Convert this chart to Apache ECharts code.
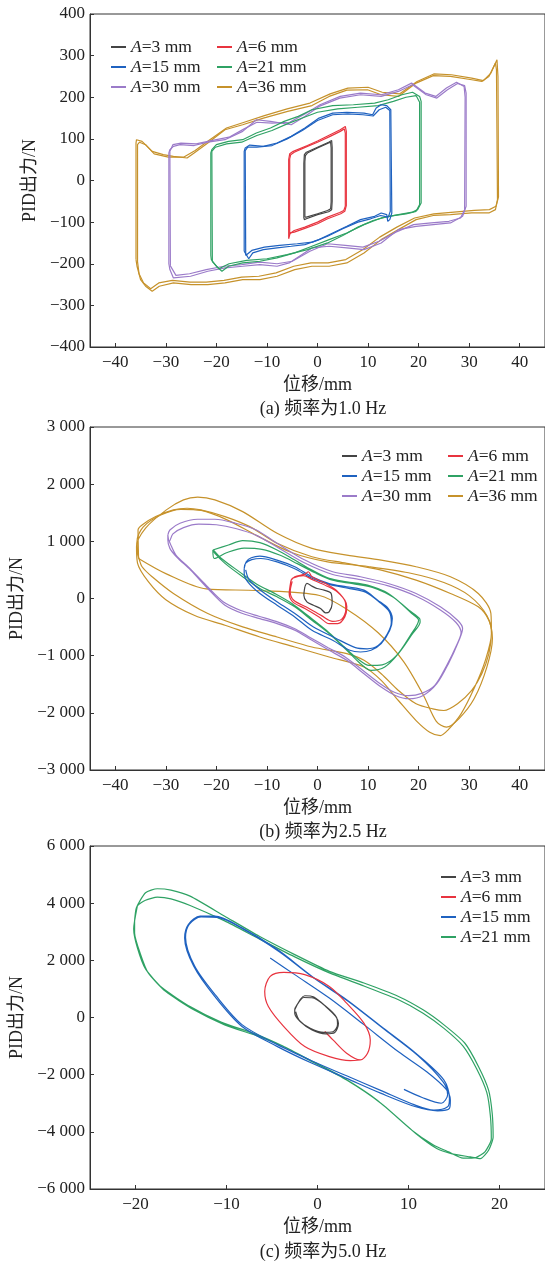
<!DOCTYPE html>
<html>
<head>
<meta charset="utf-8">
<script src="https://cdn.jsdelivr.net/npm/echarts@6/dist/echarts.min.js"></script>
<style>
  html, body { margin: 0; padding: 0; background: #fff; }
  #main { width: 545px; height: 1263px; }
</style>
</head>
<body>
<div id="main"></div>
<script>
// 图例名称与颜色
var names = ['A=3 mm', 'A=6 mm', 'A=15 mm', 'A=21 mm', 'A=30 mm', 'A=36 mm'];
var colors = ['#444444', '#e8343f', '#1f62c0', '#2fa264', '#9b7bc9', '#c6922b'];

// 坐标刻度
var xTicksA = [-40, -30, -20, -10, 0, 10, 20, 30, 40];
var xTicksC = [-20, -10, 0, 10, 20];

// (a) 频率为1.0 Hz  [位移mm, 出力N]，每个幅值两圈
var a3 = [[-2.7,-90],[-2.7,40],[-2.6,62],[-2.2,68],[0,80],[2.2,92],[2.8,96],[2.9,80],[2.9,-50],[2.8,-70],[2.2,-75],[0,-82],[-2.2,-92],[-2.6,-94],[-2.7,-90]];
var a3b = [[-2.5,-88],[-2.5,45],[-2.4,60],[-2,66],[0,78],[2.2,90],[2.6,92],[2.7,78],[2.7,-52],[2.6,-68],[2,-72],[0,-80],[-2.2,-88],[-2.5,-88]];
var a6 = [[-5.7,-140],[-5.7,50],[-5.5,64],[-4.8,70],[-2,84],[0,95],[2.5,110],[4.5,122],[5.5,130],[5.7,118],[5.7,-60],[5.4,-74],[4.6,-80],[2,-92],[0,-104],[-2.5,-115],[-4.6,-124],[-5.4,-126],[-5.7,-140]];
var a6b = [[-5.5,-128],[-5.5,52],[-5.3,62],[-4.6,68],[-2,82],[0,92],[2.5,106],[4.5,118],[5.3,124],[5.5,114],[5.5,-62],[5.2,-72],[4.4,-77],[2,-88],[0,-100],[-2.5,-112],[-4.6,-120],[-5.5,-128]];
var a15 = [[-14.5,-170],[-14.5,70],[-14.3,78],[-13.4,85],[-10.7,82],[-8,90],[-5.2,106],[-2.5,126],[0.3,150],[3,162],[5.8,164],[9.2,162],[10.9,158],[11.6,174],[12.6,182],[13.7,180],[14.5,170],[14.7,-78],[14.3,-94],[13.9,-98],[13.7,-82],[12.6,-78],[11.3,-86],[8.5,-94],[5.8,-110],[3,-126],[0.3,-142],[-2.5,-154],[-5.2,-158],[-8,-162],[-10.7,-166],[-12.8,-174],[-13.6,-188],[-14.3,-174],[-14.5,-170]];
var a15b = [[-14.2,-180],[-14.3,72],[-13.8,80],[-12,80],[-9,84],[-6,100],[-3,120],[0,144],[3,158],[6,160],[9,158],[11,155],[12.2,170],[13.5,176],[14.3,168],[14.4,-74],[14,-88],[12.5,-84],[10.5,-92],[8,-100],[5,-116],[2,-134],[-1,-148],[-4,-152],[-7.5,-156],[-10.5,-160],[-13,-168],[-14.2,-180]];
var a21 = [[-21.1,-180],[-21.1,66],[-20.9,74],[-20,86],[-17.6,94],[-14.8,98],[-12.1,114],[-9.3,126],[-6.6,142],[-3.8,154],[-1.1,170],[3,180],[7.1,182],[11.3,186],[14,194],[16.7,206],[18.8,212],[20.2,202],[20.5,190],[20.5,-54],[19.8,-70],[18.8,-76],[16,-82],[12.6,-90],[9.2,-106],[5.8,-126],[2.3,-142],[-1.1,-158],[-4.5,-174],[-8,-186],[-11.4,-194],[-14.8,-198],[-17.6,-206],[-18.9,-218],[-20,-206],[-21,-190],[-21.1,-180]];
var a21b = [[-20.8,-195],[-20.9,70],[-20.2,80],[-18,88],[-15,92],[-12,108],[-9,120],[-6,136],[-3,150],[0,164],[4,172],[8,176],[12,180],[15,190],[17.5,200],[19.5,204],[20.2,188],[20.2,-58],[19.5,-74],[17.5,-80],[14,-86],[11,-96],[8,-112],[5,-132],[2,-150],[-2,-166],[-6,-178],[-10,-188],[-14,-192],[-17.5,-200],[-19.5,-212],[-20.8,-195]];
var a30 = [[-29.4,-200],[-29.4,66],[-29.2,74],[-28.5,82],[-27.2,86],[-24.4,84],[-21.7,92],[-18.3,98],[-14.8,118],[-12.1,146],[-9.3,142],[-5.2,134],[-2.5,154],[0.3,178],[4.4,198],[8.5,206],[12.6,202],[16,214],[18.8,230],[21.5,206],[23.6,198],[25.7,218],[27.7,233],[29.1,228],[29.4,210],[29.4,-62],[28.7,-86],[26.3,-102],[22.9,-106],[19.5,-110],[16,-118],[12.6,-150],[9.2,-166],[5.8,-162],[2.3,-158],[-1.1,-162],[-5.6,-198],[-8,-206],[-11.4,-202],[-14.8,-206],[-18.3,-210],[-21.7,-218],[-25.1,-230],[-28.5,-234],[-29.2,-214],[-29.4,-200]];
var a30b = [[-29.1,-205],[-29.2,70],[-28.6,86],[-27,90],[-24,88],[-21,96],[-17.5,104],[-14.5,124],[-12,140],[-9,138],[-5.5,140],[-2.5,160],[0.5,182],[4.5,202],[8.5,210],[12.6,206],[16,218],[18.6,234],[21.3,210],[23.4,202],[25.5,222],[27.5,236],[29,226],[29.2,200],[29.1,-70],[28.3,-90],[26,-98],[22.5,-102],[19,-106],[15.5,-124],[12.2,-146],[9,-160],[5.5,-156],[2,-152],[-1.5,-170],[-5,-194],[-8,-200],[-11.5,-196],[-15,-202],[-18.5,-206],[-22,-214],[-25.3,-224],[-28,-228],[-29.1,-205]];
var a36 = [[-35.9,-190],[-35.9,90],[-35.8,98],[-34.7,94],[-32.7,70],[-30.5,62],[-28.5,58],[-25.8,54],[-24.4,66],[-21.7,90],[-18.3,122],[-14.8,134],[-10.7,150],[-5.9,166],[-1.1,180],[2.3,202],[5.8,217],[9.9,218],[12.6,206],[16,202],[19.5,234],[22.9,252],[26.3,250],[30.5,242],[32.5,238],[33.9,250],[35.2,282],[35.4,266],[35.6,-46],[35.2,-70],[33.9,-78],[30.5,-78],[26.3,-82],[22.9,-84],[19.5,-94],[16,-118],[12.6,-142],[9.2,-174],[5.8,-198],[2.3,-206],[-1.1,-206],[-4.5,-214],[-8,-230],[-11.4,-238],[-14.8,-238],[-18.3,-246],[-21.7,-250],[-25,-250],[-28.5,-246],[-31.3,-254],[-32.7,-266],[-34,-254],[-35,-238],[-35.7,-206],[-35.9,-190]];
var a36b = [[-35.6,-195],[-35.6,86],[-35.2,92],[-34,86],[-32.3,64],[-29.5,56],[-26.5,56],[-24.2,72],[-21.5,96],[-18,126],[-14.5,140],[-10.5,156],[-6,172],[-1.5,186],[2.5,208],[6,222],[10,224],[12.8,212],[16.2,208],[19.7,238],[23,256],[26.5,254],[30.5,246],[32.8,240],[34.3,258],[35.5,290],[35.7,250],[35.8,-40],[35.3,-62],[34,-70],[31,-72],[27,-76],[23,-80],[19.2,-90],[15.7,-112],[12.3,-136],[9,-166],[5.6,-190],[2.1,-198],[-1.3,-198],[-4.7,-206],[-8.2,-222],[-11.6,-230],[-15,-232],[-18.5,-240],[-22,-244],[-25.2,-244],[-28.7,-240],[-31.4,-246],[-33,-260],[-34.4,-246],[-35.3,-224],[-35.6,-195]];

// (b) 频率为2.5 Hz
var b3 = [[-2.5,205],[-2.1,263],[-1.1,216],[-0.1,175],[1.3,146],[2.7,88],[2.9,-88],[2.3,-234],[1.6,-251],[0.6,-175],[-0.8,-117],[-2.1,-58],[-2.7,58],[-2.5,205]];
var b6 = [[-5.2,322],[-4.5,380],[-2.5,427],[-1.8,468],[-1.1,380],[1.6,263],[3.7,146],[5.4,-29],[5.8,-146],[5.4,-322],[4,-439],[2.3,-439],[0.3,-322],[-2.5,-175],[-4.9,-58],[-5.6,88],[-5.4,234],[-5.2,322],
          [-4.8,360],[-2.8,400],[-1,330],[1.8,220],[4,110],[5.5,-60],[5.6,-200],[4.8,-360],[3,-400],[0.8,-300],[-2.2,-150],[-4.7,-30],[-5.4,120],[-5,300]];
var b15 = [[-14.5,526],[-14.1,643],[-13.1,713],[-11.4,743],[-8,672],[-4.5,556],[-1.1,380],[2.3,263],[5.8,205],[9.2,146],[11.9,-29],[14,-175],[14.8,-351],[14.3,-556],[12.6,-789],[10.6,-906],[8.5,-936],[6.4,-906],[3,-731],[-1.1,-556],[-4.5,-322],[-8,-117],[-11.4,88],[-13.8,292],[-14.5,439],[-14.5,526],
           [-14.2,620],[-13,680],[-11.2,700],[-8,640],[-4.5,520],[-1,350],[2.5,240],[6,180],[9.5,110],[12.2,-60],[14.2,-230],[14.6,-420],[13.8,-620],[12,-820],[9.8,-880],[7.5,-860],[3.5,-690],[-0.8,-500],[-4.2,-280],[-7.8,-70],[-11.2,140],[-13.6,340],[-14.2,500]];
var b21 = [[-20.7,848],[-17.6,936],[-14.8,1012],[-11.4,977],[-8,848],[-4.5,672],[-1.1,497],[2.3,351],[5.8,292],[9.9,234],[14,88],[18.1,-205],[20.2,-351],[20.3,-409],[18.8,-614],[16,-965],[13.3,-1199],[10.6,-1257],[8.5,-1140],[5.8,-906],[2.3,-614],[-1.1,-380],[-4.5,-146],[-8,29],[-11.4,175],[-14.8,380],[-18.3,614],[-20.3,789],[-20.7,848],
           [-20.4,700],[-18,800],[-14.5,880],[-11,860],[-7.5,760],[-4,610],[-0.5,450],[3,320],[7,260],[11,190],[15,20],[18.6,-260],[20,-380],[18.4,-640],[15.6,-1000],[12.8,-1160],[10.2,-1170],[8,-1060],[5.2,-840],[1.8,-560],[-1.6,-320],[-5,-90],[-8.5,90],[-12,250],[-15.5,470],[-19,700],[-20.6,850]];
var b30 = [[-29.6,1111],[-29.2,1199],[-27.2,1316],[-23.7,1386],[-20.3,1386],[-16.2,1316],[-12.1,1199],[-8,965],[-2.5,672],[3,468],[8.5,380],[14,263],[19.5,88],[24.3,-146],[27.7,-380],[28.7,-526],[28,-731],[25.9,-1140],[23.6,-1491],[20.9,-1696],[18.1,-1754],[15.4,-1696],[12.6,-1550],[9.2,-1316],[5.8,-1082],[2.3,-906],[-1.1,-731],[-4.5,-556],[-8,-439],[-11.4,-351],[-14.8,-263],[-18.3,-117],[-21.7,175],[-25.1,497],[-27.9,731],[-29.2,877],[-29.6,1023],[-29.6,1111],
           [-29.3,1000],[-28.6,1130],[-26.5,1240],[-23.5,1300],[-20,1290],[-16,1220],[-12,1100],[-8,900],[-2.5,620],[3,420],[8.5,330],[14,220],[19.5,40],[24.3,-200],[27.4,-420],[28.4,-600],[27.6,-800],[25.5,-1180],[23.2,-1520],[20.6,-1660],[18,-1700],[15.2,-1640],[12.4,-1490],[9,-1260],[5.6,-1030],[2.1,-860],[-1.3,-690],[-4.7,-520],[-8.2,-400],[-11.6,-310],[-15,-215],[-18.6,-60],[-22,230],[-25.4,540],[-28,760],[-29.3,1000]];
var b36 = [[-35.4,731],[-35.5,1199],[-34.7,1287],[-32,1433],[-28.5,1550],[-25.8,1579],[-23.1,1550],[-18.3,1433],[-13.4,1257],[-8,965],[-1.1,731],[5.8,614],[12.6,497],[19.5,322],[26.3,88],[31.8,-146],[33.9,-380],[34.4,-614],[33.9,-965],[32.5,-1316],[30.5,-1608],[27.7,-1842],[25,-1959],[22.8,-1930],[19.5,-1842],[16,-1608],[12.6,-1316],[9.2,-1082],[5.8,-965],[-1.1,-848],[-8,-673],[-14.8,-497],[-21.7,-263],[-28.5,88],[-32.7,380],[-34.7,556],[-35.4,731],
           [-35.8,906],[-34,1230],[-29.9,1550],[-26.5,1725],[-23.7,1772],[-20.3,1725],[-14.8,1520],[-8,1140],[-1.1,877],[5.8,760],[12.6,672],[19.5,556],[26.3,380],[31.8,88],[34.3,-263],[34.4,-614],[33.2,-1082],[31.1,-1550],[28.4,-2018],[25.7,-2310],[24.3,-2398],[22.2,-2339],[19.5,-2135],[16,-1784],[12.6,-1433],[9.2,-1199],[2.3,-1023],[-4.5,-848],[-11.4,-673],[-18.3,-468],[-24.4,-292],[-30,-20],[-33.5,300],[-35.6,620],[-35.8,906]];
var b36c = [[-35.4,700],[-29.9,431],[-22,168],[-12.1,140],[0.4,53],[6,-200],[12,-600],[17,-1100],[21,-1700],[23.5,-2150],[25.5,-2250],[28,-2100],[31,-1750],[33.5,-1200],[34.6,-700],[33.5,-300],[30,50],[25,280],[18,450],[10,560],[2,640],[-5,800],[-12,1100],[-18,1380],[-23,1540],[-27,1560],[-31,1460],[-34.5,1250],[-35.7,1000],[-35.4,700]];

// (c) 频率为5.0 Hz
var c3 = [[-2.5,269],[-1.4,761],[-0.4,714],[0.9,386],[2,35],[2.3,-199],[1.9,-527],[0.9,-573],[-0.6,-433],[-1.9,-140],[-2.5,152],[-2.5,269],
          [-2.3,420],[-1.5,700],[-0.6,690],[0.8,420],[2.1,0],[2.2,-250],[1.7,-500],[0.7,-520],[-0.8,-380],[-2,-100],[-2.4,200]];
var c6 = [[0.8,-491],[1.7,-784],[3.2,-1252],[4.7,-1486],[5.5,-1252],[5.8,-784],[5.1,-199],[3.2,503],[1.3,1088],[-1.4,1498],[-3.7,1580],[-5.2,1439],[-5.8,913],[-5.4,386],[-3.7,-316],[-1.4,-1018],[1.3,-1369],[3.6,-1509],[4.7,-1486]];
var c15 = [[-5.2,2083],[-2.5,1500],[1.3,680],[5.1,-250],[8.9,-1200],[12,-1900],[14.1,-2500],[14.6,-2890],[14.5,-3182],[13.2,-3264],[10.8,-3124],[7,-2656],[3.2,-2129],[-0.6,-1603],[-4.4,-1018],[-8.3,-316],[-11.3,737],[-13.6,1790],[-14.6,2785],[-14.2,3253],[-12.9,3545],[-11.3,3545],[-8.3,3136],[-4.4,2375],[-0.6,1439],[3.2,620],[7,-316],[10.8,-1252],[13.9,-2188],[14.5,-2831],[14.3,-3124],[12.8,-3241],[10.6,-3050],[7,-2560],[3.2,-2040],[-0.6,-1520],[-4.4,-950],[-8.3,-250],[-11.2,780],[-13.5,1800],[-14.5,2800],[-14.1,3260],[-12.8,3520],[-11,3500],[-8.1,3080],[-4.2,2300],[-0.4,1380],[3.4,560],[7.2,-380],[11,-1320],[13.8,-2250],[14.3,-2700],[13.6,-3000],[11.5,-2800],[9.5,-2516]];
var c21 = [[-20.1,3370],[-19.9,3838],[-18.9,4364],[-17.6,4505],[-16.1,4458],[-14,4247],[-10.2,3545],[-6.4,2843],[-2.5,2200],[1.3,1615],[5.1,1205],[8.9,737],[11.6,269],[13.9,-257],[16.2,-901],[17.7,-1720],[18.8,-2539],[19.2,-3358],[19.3,-4177],[18.8,-4645],[17.9,-4938],[16.8,-4879],[14.7,-4762],[13.1,-4586],[10.8,-4060],[7,-3007],[3.2,-2188],[-0.6,-1544],[-3.3,-1076],[-6.4,-667],[-10.2,-257],[-13.6,269],[-16.7,913],[-18.6,1556],[-19.5,2258],[-20.1,2960],[-20.1,3370],
           [-19.8,3900],[-18.9,4100],[-17.6,4210],[-16.1,4150],[-14,3920],[-10.2,3380],[-6.4,2750],[-2.5,2120],[1.3,1560],[5.1,1100],[8.9,620],[11.6,150],[13.9,-380],[16,-1000],[17.5,-1800],[18.6,-2620],[19,-3450],[19.1,-4250],[18.4,-4700],[17.4,-4900],[16,-4920],[14.4,-4700],[12.7,-4450],[10.4,-3950],[6.6,-2900],[2.8,-2100],[-1,-1460],[-3.8,-1000],[-6.8,-580],[-10.6,-160],[-14,380],[-17.1,1050],[-18.9,1700],[-19.8,2450],[-20.2,3100],[-19.8,3900]];

var FONT = '"Liberation Serif", "Noto Sans CJK SC", serif';

function fmt(v) {
  var a = Math.abs(v);
  var s = a >= 1000 ? Math.floor(a / 1000) + ' ' + String(a % 1000).padStart(3, '0') : String(a);
  return (v < 0 ? '\u2212' : '') + s;
}

var chart = echarts.init(document.getElementById('main'), null, { renderer: 'canvas' });

var grids = [
  { left: 90, top: 14, width: 457, height: 333 },
  { left: 90, top: 427, width: 457, height: 343 },
  { left: 90, top: 846, width: 457, height: 343 }
];
var xRanges = [[-45, 45, xTicksA], [-45, 45, xTicksA], [-25, 25, xTicksC]];
var yRanges = [[-400, 400, 100, 50], [-3000, 3000, 1000, 62], [-6000, 6000, 2000, 62]];

function xAxis(i) {
  return {
    gridIndex: i, type: 'value', min: xRanges[i][0], max: xRanges[i][1], interval: 5,
    name: '位移/mm', nameLocation: 'middle', nameGap: 29,
    nameTextStyle: { fontFamily: FONT, fontSize: 18, color: '#222' },
    axisLine: { onZero: false, lineStyle: { color: '#333', width: 1 } },
    axisTick: { inside: true, length: 4, customValues: xRanges[i][2], lineStyle: { color: '#333' } },
    axisLabel: { customValues: xRanges[i][2], margin: 7, fontFamily: FONT, fontSize: 17, color: '#222', formatter: fmt },
    splitLine: { show: false }
  };
}
function yAxis(i) {
  return {
    gridIndex: i, type: 'value', min: yRanges[i][0], max: yRanges[i][1], interval: yRanges[i][2],
    name: 'PID出力/N', nameLocation: 'middle', nameGap: yRanges[i][3],
    nameTextStyle: { fontFamily: FONT, fontSize: 18, color: '#222' },
    axisLine: { onZero: false, lineStyle: { color: '#333', width: 1 } },
    axisTick: { inside: true, length: 4, lineStyle: { color: '#333' } },
    axisLabel: { margin: 5, fontFamily: FONT, fontSize: 17, color: '#222', formatter: fmt },
    splitLine: { show: false }
  };
}

function legend(left, top, data) {
  return {
    left: left, top: top, orient: 'vertical', itemGap: 0,
    itemWidth: 15, itemHeight: 2, icon: 'rect', data: data,
    selectedMode: false,
    formatter: function (n) { return '{i|A}{n|' + n.slice(1) + '}'; },
    textStyle: {
      color: '#222', fontFamily: FONT, fontSize: 17.5, lineHeight: 20,
      rich: {
        i: { fontStyle: 'italic', fontFamily: FONT, fontSize: 17.5, lineHeight: 20, color: '#222' },
        n: { fontFamily: FONT, fontSize: 17.5, lineHeight: 20, color: '#222' }
      }
    }
  };
}

function line(name, gi, data, smooth) {
  var k = names.indexOf(name);
  return {
    name: name, type: 'line', xAxisIndex: gi, yAxisIndex: gi, data: data,
    showSymbol: false, smooth: smooth, color: colors[k],
    lineStyle: { width: 1.2, color: colors[k] }
  };
}

var series = [
  line(names[5], 0, a36, false), line(names[5], 0, a36b, false),
  line(names[4], 0, a30, false), line(names[4], 0, a30b, false),
  line(names[3], 0, a21, false), line(names[3], 0, a21b, false),
  line(names[2], 0, a15, false), line(names[2], 0, a15b, false),
  line(names[1], 0, a6, false), line(names[1], 0, a6b, false),
  line(names[0], 0, a3, false), line(names[0], 0, a3b, false),
  line(names[5], 1, b36, 0.3), line(names[5], 1, b36c, 0.3), line(names[4], 1, b30, 0.3),
  line(names[3], 1, b21, 0.3), line(names[2], 1, b15, 0.3), line(names[1], 1, b6, 0.3),
  line(names[0], 1, b3, 0.3),
  line(names[3], 2, c21, 0.2), line(names[2], 2, c15, 0.3), line(names[1], 2, c6, 0.3),
  line(names[0], 2, c3, 0.3)
];

chart.setOption({
  animation: false,
  backgroundColor: '#fff',
  grid: grids.map(function (g) {
    return { left: g.left, top: g.top, width: g.width, height: g.height, show: true, borderColor: '#333', borderWidth: 1 };
  }),
  xAxis: [xAxis(0), xAxis(1), xAxis(2)],
  yAxis: [yAxis(0), yAxis(1), yAxis(2)],
  legend: [
    legend(106, 32, [names[0], names[2], names[4]]),
    legend(212, 32, [names[1], names[3], names[5]]),
    legend(337, 441, [names[0], names[2], names[4]]),
    legend(443, 441, [names[1], names[3], names[5]]),
    legend(436, 862, [names[0], names[1], names[2], names[3]])
  ],
  graphic: [
    { type: 'text', x: 323, y: 409, style: { text: '(a) 频率为1.0 Hz', fontFamily: FONT, fontSize: 18, fill: '#222', align: 'center', verticalAlign: 'middle' } },
    { type: 'text', x: 323, y: 832, style: { text: '(b) 频率为2.5 Hz', fontFamily: FONT, fontSize: 18, fill: '#222', align: 'center', verticalAlign: 'middle' } },
    { type: 'text', x: 323, y: 1252, style: { text: '(c) 频率为5.0 Hz', fontFamily: FONT, fontSize: 18, fill: '#222', align: 'center', verticalAlign: 'middle' } }
  ],
  series: series
});
</script>
</body>
</html>
